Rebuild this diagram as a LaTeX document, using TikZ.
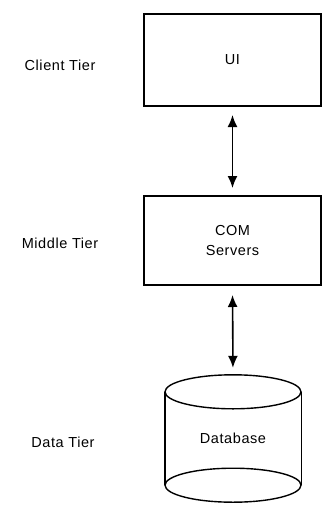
\documentclass[tikz,border=0pt]{standalone}
\usepackage{fontspec}
\setmainfont{Liberation Sans}[LetterSpace=4]
\usetikzlibrary{arrows.meta}

\begin{document}
\begin{tikzpicture}[x=1pt,y=-1pt,
    tierbox/.style={draw, line width=2pt, minimum width=177pt, align=center, font=\fontsize{14.5}{20}\selectfont},
    tierlabel/.style={font=\fontsize{14.5}{18}\selectfont},
    link/.style={{Latex[length=12pt,width=10pt]}-{Latex[length=12pt,width=10pt]}, line width=1.6pt}]
                \useasboundingbox (0,0) rectangle (328,517);
                \node[tierbox, minimum height=92pt] (ui) at (232.5,60) {UI};
                \node[tierbox, minimum height=89pt] (com) at (232.5,240.5) {COM\\Servers};
                \node[minimum width=136pt, minimum height=127pt, inner sep=0pt, font=\fontsize{14.5}{18}\selectfont] (db) at (233,438.5) {Database};
                % cylinder
                \draw[line width=1.4pt] (db.north) ++(0,17) ellipse [x radius=68, y radius=17];
                \draw[line width=1.4pt] (db.south) ++(0,-17) ellipse [x radius=68, y radius=17];
                \draw[line width=1.4pt] (db.north west) ++(0,17) -- ++(0,93);
                \draw[line width=1.4pt] (db.north east) ++(0,17) -- ++(0,93);
                \draw[link, shorten <=8pt, shorten >=7pt] (ui.south) -- (com.north);
                \draw[link, shorten <=9pt, shorten >=7pt] (com.south) -- (db.north);
                \node[tierlabel] (client) at (60,65) {Client Tier};
                \node[tierlabel] (middle) at (60,243) {Middle Tier};
                \node[tierlabel] (data) at (63,442) {Data Tier};
            \end{tikzpicture}
\end{document}
